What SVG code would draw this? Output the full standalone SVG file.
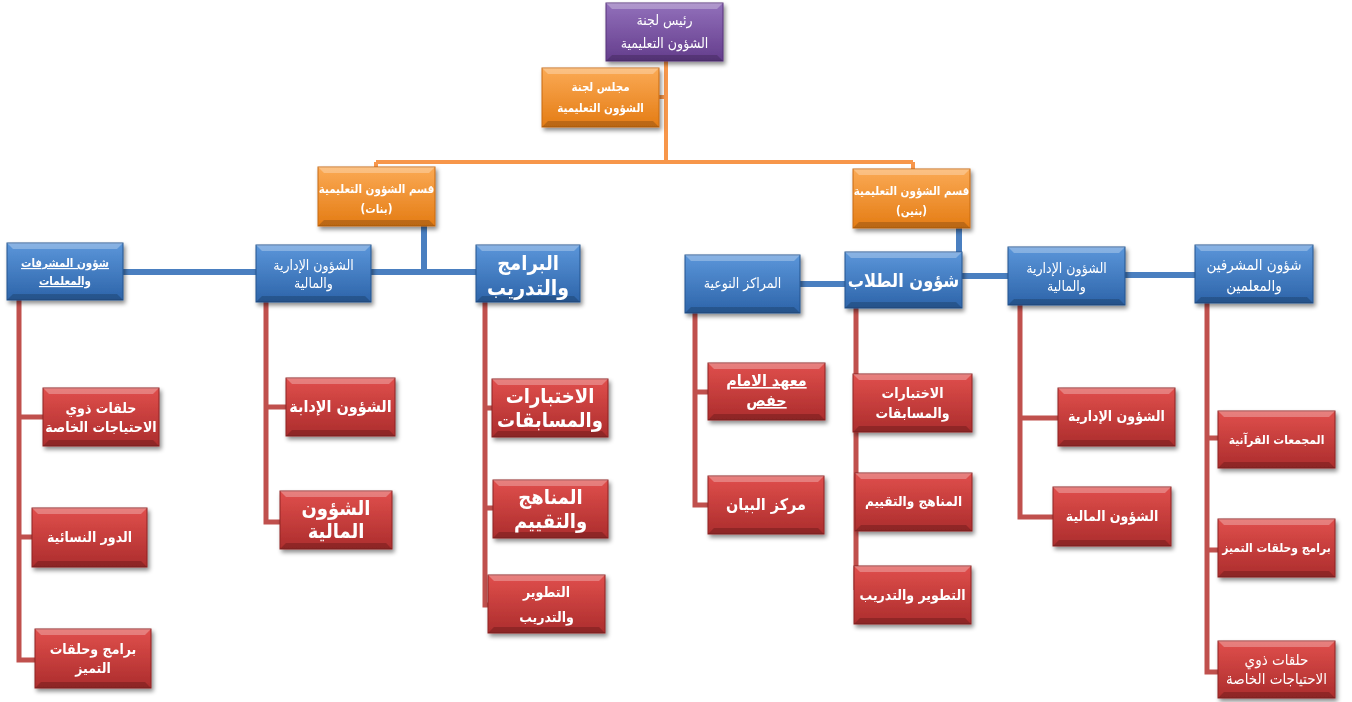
<svg xmlns="http://www.w3.org/2000/svg" width="1352" height="702" viewBox="0 0 1352 702">
<defs>
<linearGradient id="gP" x1="0" y1="0" x2="0" y2="1"><stop offset="0" stop-color="#9270bb"/><stop offset="1" stop-color="#643d8c"/></linearGradient>
<linearGradient id="gO" x1="0" y1="0" x2="0" y2="1"><stop offset="0" stop-color="#fbaa55"/><stop offset="1" stop-color="#e47c14"/></linearGradient>
<linearGradient id="gB" x1="0" y1="0" x2="0" y2="1"><stop offset="0" stop-color="#5b96da"/><stop offset="1" stop-color="#2d64a9"/></linearGradient>
<linearGradient id="gR" x1="0" y1="0" x2="0" y2="1"><stop offset="0" stop-color="#e04f4c"/><stop offset="1" stop-color="#ac2d2d"/></linearGradient>
<filter id="sh" x="-10%" y="-10%" width="130%" height="140%"><feDropShadow dx="2" dy="3" stdDeviation="2" flood-color="#000" flood-opacity="0.45"/></filter>
</defs>
<style>
.n{filter:url(#sh)}
.p{fill:url(#gP);stroke:#57337a;stroke-width:1}
.o{fill:url(#gO);stroke:#c86a10;stroke-width:1}
.b{fill:url(#gB);stroke:#25558f;stroke-width:1}
.r{fill:url(#gR);stroke:#8f2424;stroke-width:1}
.hi{fill:#fff;opacity:0.28}
.lo{fill:#000;opacity:0.18}
text{font-family:"DejaVu Sans Condensed","DejaVu Sans",sans-serif;fill:#fff;text-anchor:middle;direction:rtl}
.s{font-size:14px}
.xs{font-size:11.5px;font-weight:bold}
.sb{font-size:12px;font-weight:bold}
.m{font-size:14px;font-weight:bold}
.mb{font-size:16px;font-weight:bold}
.l{font-size:20px;font-weight:bold}
.u{text-decoration:underline}
.co{stroke:#f7964a;stroke-width:4;fill:none}
.cb{stroke:#4a7fc0;stroke-width:6;fill:none}
.cr{stroke:#c0504d;stroke-width:5;fill:none}
</style>

<g id="connectors">
<path class="co" d="M666 61V162M659 97H666M376 162H913M376 162V167M913 162V169"/>
<path class="cb" d="M424 226V272M371 272H476M123 272H256M959 228V276M962 276H1008M800 284H845M1125 275H1195"/>
<path class="cr" d="M19 300V660H35M19 417H43M19 537H32"/>
<path class="cr" d="M266 302V522H280M266 407H286"/>
<path class="cr" d="M485 302V605H488M485 408H492M485 508H493"/>
<path class="cr" d="M695 313V505H708M695 392H708"/>
<path class="cr" d="M856 308V590"/>
<path class="cr" d="M1020 305V517H1053M1020 418H1058"/>
<path class="cr" d="M1207 303V672H1218M1207 438H1218M1207 550H1218"/>
</g>

<g id="n-head" class="n"><rect class="p" x="606" y="3" width="117" height="58"/><polygon class="hi" points="606,3 723,3 717,9 612,9"/><polygon class="lo" points="606,61 723,61 717,55 612,55"/>
<text class="s" x="664.5" y="25">رئيس لجنة</text><text class="s" x="664.5" y="48">الشؤون التعليمية</text></g>

<g id="n-council" class="n"><rect class="o" x="542" y="68" width="117" height="59"/><polygon class="hi" points="542,68 659,68 653,74 548,74"/><polygon class="lo" points="542,127 659,127 653,121 548,121"/>
<text class="xs" x="600.5" y="91">مجلس لجنة</text><text class="xs" x="600.5" y="112">الشؤون التعليمية</text></g>

<g id="n-girls" class="n"><rect class="o" x="318" y="167" width="117" height="59"/><polygon class="hi" points="318,167 435,167 429,173 324,173"/><polygon class="lo" points="318,226 435,226 429,220 324,220"/>
<text class="xs" x="376.5" y="193">قسم الشؤون التعليمية</text><text class="xs" x="376.5" y="213">(بنات)</text></g>

<g id="n-boys" class="n"><rect class="o" x="853" y="169" width="117" height="59"/><polygon class="hi" points="853,169 970,169 964,175 859,175"/><polygon class="lo" points="853,228 970,228 964,222 859,222"/>
<text class="xs" x="911.5" y="195">قسم الشؤون التعليمية</text><text class="xs" x="911.5" y="215">(بنين)</text></g>

<g id="n-l1" class="n"><rect class="b" x="7" y="243" width="116" height="57"/><polygon class="hi" points="7,243 123,243 117,249 13,249"/><polygon class="lo" points="7,300 123,300 117,294 13,294"/>
<text class="xs u" x="65" y="267">شؤون المشرفات</text><text class="xs u" x="65" y="285">والمعلمات</text></g>

<g id="n-l2" class="n"><rect class="b" x="256" y="245" width="115" height="57"/><polygon class="hi" points="256,245 371,245 365,251 262,251"/><polygon class="lo" points="256,302 371,302 365,296 262,296"/>
<text class="s" x="313.5" y="270">الشؤون الإدارية</text><text class="s" x="313.5" y="288">والمالية</text></g>

<g id="n-l3" class="n"><rect class="b" x="476" y="245" width="104" height="57"/><polygon class="hi" points="476,245 580,245 574,251 482,251"/><polygon class="lo" points="476,302 580,302 574,296 482,296"/>
<text class="l" x="528" y="270">البرامج</text><text class="l" x="528" y="295" style="font-size:21px">والتدريب</text></g>

<g id="n-r1" class="n"><rect class="b" x="685" y="255" width="115" height="58"/><polygon class="hi" points="685,255 800,255 794,261 691,261"/><polygon class="lo" points="685,313 800,313 794,307 691,307"/>
<text class="s" x="742.5" y="288">المراكز النوعية</text></g>

<g id="n-r2" class="n"><rect class="b" x="845" y="252" width="117" height="56"/><polygon class="hi" points="845,252 962,252 956,258 851,258"/><polygon class="lo" points="845,308 962,308 956,302 851,302"/>
<text class="l" x="903.5" y="287" style="font-size:18px">شؤون الطلاب</text></g>

<g id="n-r3" class="n"><rect class="b" x="1008" y="247" width="117" height="58"/><polygon class="hi" points="1008,247 1125,247 1119,253 1014,253"/><polygon class="lo" points="1008,305 1125,305 1119,299 1014,299"/>
<text class="s" x="1066.5" y="273">الشؤون الإدارية</text><text class="s" x="1066.5" y="291">والمالية</text></g>

<g id="n-r4" class="n"><rect class="b" x="1195" y="245" width="118" height="58"/><polygon class="hi" points="1195,245 1313,245 1307,251 1201,251"/><polygon class="lo" points="1195,303 1313,303 1307,297 1201,297"/>
<text class="m" x="1254" y="270" style="font-weight:normal;font-size:15px">شؤون المشرفين</text><text class="m" x="1254" y="291" style="font-weight:normal;font-size:15px">والمعلمين</text></g>

<g id="n-l1a" class="n"><rect class="r" x="43" y="388" width="116" height="58"/><polygon class="hi" points="43,388 159,388 153,394 49,394"/><polygon class="lo" points="43,446 159,446 153,440 49,440"/>
<text class="m" x="101" y="413">حلقات ذوي</text><text class="m" x="101" y="432">الاحتياجات الخاصة</text></g>

<g id="n-l1b" class="n"><rect class="r" x="32" y="508" width="115" height="59"/><polygon class="hi" points="32,508 147,508 141,514 38,514"/><polygon class="lo" points="32,567 147,567 141,561 38,561"/>
<text class="m" x="89.5" y="542">الدور النسائية</text></g>

<g id="n-l1c" class="n"><rect class="r" x="35" y="629" width="116" height="59"/><polygon class="hi" points="35,629 151,629 145,635 41,635"/><polygon class="lo" points="35,688 151,688 145,682 41,682"/>
<text class="m" x="93" y="654">برامج وحلقات</text><text class="m" x="93" y="673">التميز</text></g>

<g id="n-l2a" class="n"><rect class="r" x="286" y="378" width="109" height="58"/><polygon class="hi" points="286,378 395,378 389,384 292,384"/><polygon class="lo" points="286,436 395,436 389,430 292,430"/>
<text class="mb" x="340.5" y="412">الشؤون الإدابة</text></g>

<g id="n-l2b" class="n"><rect class="r" x="280" y="491" width="112" height="58"/><polygon class="hi" points="280,491 392,491 386,497 286,497"/><polygon class="lo" points="280,549 392,549 386,543 286,543"/>
<text class="l" x="336" y="515">الشؤون</text><text class="l" x="336" y="538">المالية</text></g>

<g id="n-l3a" class="n"><rect class="r" x="492" y="379" width="116" height="58"/><polygon class="hi" points="492,379 608,379 602,385 498,385"/><polygon class="lo" points="492,437 608,437 602,431 498,431"/>
<text class="l" x="550" y="403">الاختبارات</text><text class="l" x="550" y="427">والمسابقات</text></g>

<g id="n-l3b" class="n"><rect class="r" x="493" y="480" width="115" height="58"/><polygon class="hi" points="493,480 608,480 602,486 499,486"/><polygon class="lo" points="493,538 608,538 602,532 499,532"/>
<text class="l" x="550.5" y="504">المناهج</text><text class="l" x="550.5" y="528">والتقييم</text></g>

<g id="n-l3c" class="n"><rect class="r" x="488" y="575" width="117" height="58"/><polygon class="hi" points="488,575 605,575 599,581 494,581"/><polygon class="lo" points="488,633 605,633 599,627 494,627"/>
<text class="m" x="546.5" y="597">التطوير</text><text class="m" x="546.5" y="622">والتدريب</text></g>

<g id="n-r1a" class="n"><rect class="r" x="708" y="363" width="117" height="57"/><polygon class="hi" points="708,363 825,363 819,369 714,369"/><polygon class="lo" points="708,420 825,420 819,414 714,414"/>
<text class="mb u" x="766.5" y="386">معهد الامام</text><text class="mb u" x="766.5" y="406">حفص</text></g>

<g id="n-r1b" class="n"><rect class="r" x="708" y="476" width="116" height="58"/><polygon class="hi" points="708,476 824,476 818,482 714,482"/><polygon class="lo" points="708,534 824,534 818,528 714,528"/>
<text class="mb" x="766" y="510">مركز البيان</text></g>

<g id="n-r2a" class="n"><rect class="r" x="853" y="374" width="119" height="58"/><polygon class="hi" points="853,374 972,374 966,380 859,380"/><polygon class="lo" points="853,432 972,432 966,426 859,426"/>
<text class="m" x="912.5" y="398">الاختبارات</text><text class="m" x="912.5" y="418">والمسابقات</text></g>

<g id="n-r2b" class="n"><rect class="r" x="855" y="473" width="117" height="58"/><polygon class="hi" points="855,473 972,473 966,479 861,479"/><polygon class="lo" points="855,531 972,531 966,525 861,525"/>
<text class="m" x="913.5" y="506" style="font-size:13.5px">المناهج والتقييم</text></g>

<g id="n-r2c" class="n"><rect class="r" x="854" y="566" width="117" height="58"/><polygon class="hi" points="854,566 971,566 965,572 860,572"/><polygon class="lo" points="854,624 971,624 965,618 860,618"/>
<text class="m" x="912.5" y="600">التطوير والتدريب</text></g>

<g id="n-r3a" class="n"><rect class="r" x="1058" y="388" width="117" height="58"/><polygon class="hi" points="1058,388 1175,388 1169,394 1064,394"/><polygon class="lo" points="1058,446 1175,446 1169,440 1064,440"/>
<text class="m" x="1116.5" y="421">الشؤون الإدارية</text></g>

<g id="n-r3b" class="n"><rect class="r" x="1053" y="487" width="118" height="59"/><polygon class="hi" points="1053,487 1171,487 1165,493 1059,493"/><polygon class="lo" points="1053,546 1171,546 1165,540 1059,540"/>
<text class="m" x="1112" y="521">الشؤون المالية</text></g>

<g id="n-r4a" class="n"><rect class="r" x="1218" y="411" width="117" height="57"/><polygon class="hi" points="1218,411 1335,411 1329,417 1224,417"/><polygon class="lo" points="1218,468 1335,468 1329,462 1224,462"/>
<text class="sb" x="1276.5" y="444">المجمعات القرآنية</text></g>

<g id="n-r4b" class="n"><rect class="r" x="1218" y="519" width="117" height="58"/><polygon class="hi" points="1218,519 1335,519 1329,525 1224,525"/><polygon class="lo" points="1218,577 1335,577 1329,571 1224,571"/>
<text class="sb" x="1276.5" y="552">برامج وحلقات التميز</text></g>

<g id="n-r4c" class="n"><rect class="r" x="1218" y="641" width="117" height="57"/><polygon class="hi" points="1218,641 1335,641 1329,647 1224,647"/><polygon class="lo" points="1218,698 1335,698 1329,692 1224,692"/>
<text class="s" x="1276.5" y="665" style="font-size:15px">حلقات ذوي</text><text class="s" x="1276.5" y="684" style="font-size:15px">الاحتياجات الخاصة</text></g>
</svg>
